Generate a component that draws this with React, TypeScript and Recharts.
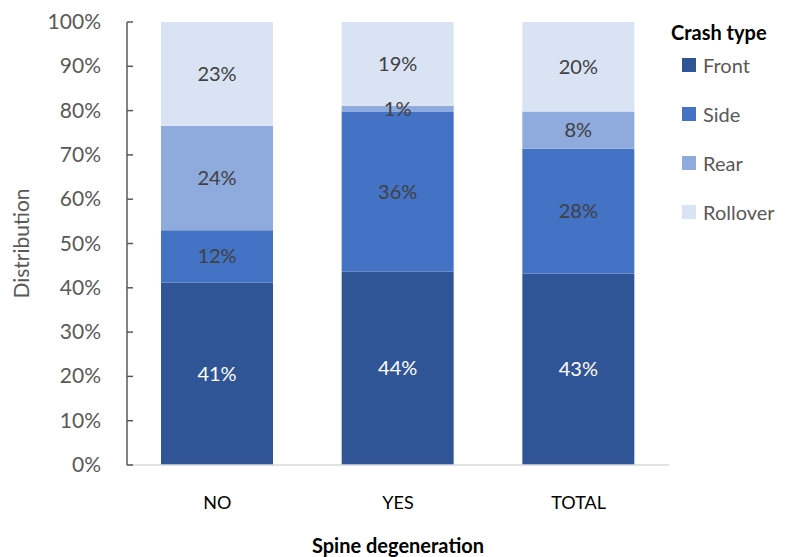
import React from "react";
import { BarChart, Bar, XAxis, YAxis, LabelList } from "recharts";

const categories = ["NO", "YES", "TOTAL"];
const front = [41.2, 43.7, 43.2];
const side = [11.8, 36.0, 28.2];
const rear = [23.6, 1.4, 8.4];
const rollover = [23.4, 18.9, 20.2];
const yTicks = [0, 10, 20, 30, 40, 50, 60, 70, 80, 90, 100];

const series = [
  { key: "front", name: "Front", color: "#2F5597", label: "#FFFFFF" },
  { key: "side", name: "Side", color: "#4472C4", label: "#404040" },
  { key: "rear", name: "Rear", color: "#8FAADC", label: "#404040" },
  { key: "rollover", name: "Rollover", color: "#DAE3F3", label: "#404040" },
];

const data = categories.map((c, i) => ({
  name: c,
  front: front[i],
  side: side[i],
  rear: rear[i],
  rollover: rollover[i],
}));

const FONT = "Lato, 'Open Sans', sans-serif";
const AXIS_X = 127;

function YTick(props: any) {
  const { y, payload } = props;
  return (
    <g>
      <line x1={AXIS_X} x2={AXIS_X + 6} y1={y} y2={y} stroke="#595959" strokeWidth={1.5} />
      <text x={101} y={y} dy={7} textAnchor="end" fill="#595959" fontSize={21} fontFamily={FONT}>
        {payload.value}%
      </text>
    </g>
  );
}

function XTick(props: any) {
  const { x, y, payload } = props;
  return (
    <text x={x} y={y} dy={36} textAnchor="middle" fill="#000000" fontSize={18} fontFamily={FONT}>
      {payload.value}
    </text>
  );
}

// legend drawn beside the plot so it doesn't eat into the chart area
function LegendBox() {
  return (
    <div style={{ position: "absolute", left: 671, top: 20, fontFamily: FONT }}>
      <div style={{ fontWeight: 700, fontSize: 20, color: "#000", height: 20, lineHeight: "24px", whiteSpace: "nowrap" }}>
        Crash type
      </div>
      {series.map((s) => (
        <div key={s.key} style={{ display: "flex", alignItems: "center", height: 49, marginLeft: 11 }}>
          <span style={{ width: 14, height: 14, background: s.color, display: "inline-block", marginRight: 7 }} />
          <span style={{ fontSize: 20, color: "#595959" }}>{s.name}</span>
        </div>
      ))}
    </div>
  );
}

export default function App() {
  return (
    <div style={{ position: "absolute", left: 0, top: 0, width: 788, height: 557, background: "#fff" }}>
      <BarChart
        width={788}
        height={557}
        data={data}
        margin={{ top: 22, right: 119, bottom: 62, left: 0 }}
      >
        <XAxis
          dataKey="name"
          tick={<XTick />}
          tickLine={false}
          axisLine={{ stroke: "#D9D9D9", strokeWidth: 1.5 }}
          label={{
            value: "Spine degeneration",
            position: "insideBottom",
            offset: -58,
            fill: "#000",
            fontSize: 20,
            fontWeight: 700,
            fontFamily: FONT,
          }}
        />
        <YAxis
          width={AXIS_X}
          domain={[0, 100]}
          ticks={yTicks}
          interval={0}
          tick={<YTick />}
          tickLine={false}
          axisLine={{ stroke: "#595959", strokeWidth: 1.5 }}
          label={{
            value: "Distribution",
            angle: -90,
            position: "insideLeft",
            offset: 22,
            style: { textAnchor: "middle" },
            fill: "#595959",
            fontSize: 21,
            fontFamily: FONT,
          }}
        />
        {series.map((s) => (
          <Bar
            key={s.key}
            dataKey={s.key}
            name={s.name}
            stackId="a"
            fill={s.color}
            barSize={112}
            isAnimationActive={false}
          >
            <LabelList
              dataKey={s.key}
              position="center"
              fill={s.label}
              fontSize={20}
              fontFamily={FONT}
              formatter={(v: any) => `${Math.round(Number(v))}%`}
            />
          </Bar>
        ))}
      </BarChart>
      <LegendBox />
    </div>
  );
}
